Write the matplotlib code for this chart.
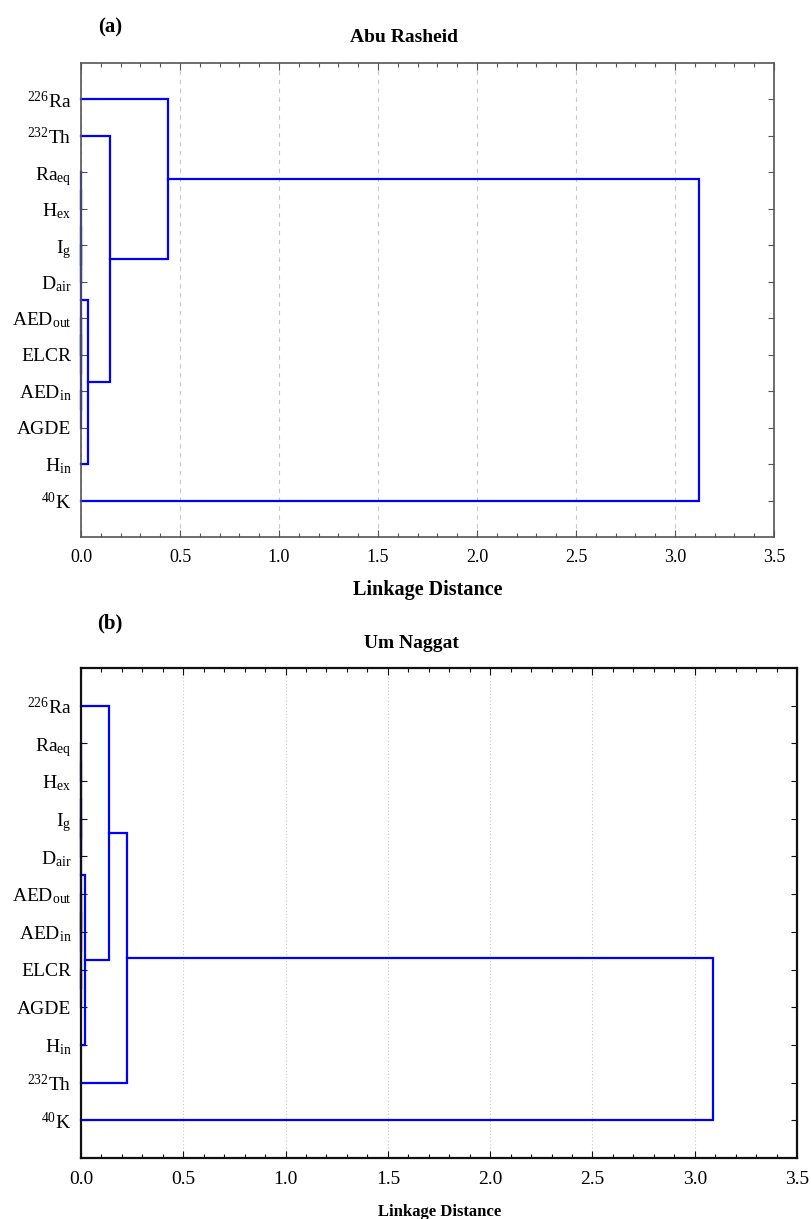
import matplotlib
matplotlib.use("Agg")
import matplotlib.pyplot as plt
from matplotlib.ticker import MultipleLocator

plt.rcParams["font.family"] = "Liberation Serif"
plt.rcParams["mathtext.fontset"] = "custom"
plt.rcParams["mathtext.rm"] = "Liberation Serif"
plt.rcParams["mathtext.it"] = "Liberation Serif:italic"
plt.rcParams["mathtext.bf"] = "Liberation Serif:bold"

# leaf labels, top to bottom
leaves_a = [r"$^{226}$Ra", r"$^{232}$Th", r"Ra$_{\mathrm{eq}}$", r"H$_{\mathrm{ex}}$",
            r"I$_{\mathrm{g}}$", r"D$_{\mathrm{air}}$", r"AED$_{\mathrm{out}}$", "ELCR",
            r"AED$_{\mathrm{in}}$", "AGDE", r"H$_{\mathrm{in}}$", r"$^{40}$K"]
leaves_b = [r"$^{226}$Ra", r"Ra$_{\mathrm{eq}}$", r"H$_{\mathrm{ex}}$", r"I$_{\mathrm{g}}$",
            r"D$_{\mathrm{air}}$", r"AED$_{\mathrm{out}}$", r"AED$_{\mathrm{in}}$", "ELCR",
            "AGDE", r"H$_{\mathrm{in}}$", r"$^{232}$Th", r"$^{40}$K"]

# merges: (left node, right node, linkage distance); new nodes numbered from 12
links_a = [(2, 3, 0.0), (4, 5, 0.0), (6, 7, 0.0), (8, 9, 0.0),
           (12, 13, 0.0), (14, 15, 0.0), (16, 17, 0.0),
           (18, 10, 0.035), (1, 19, 0.146), (0, 20, 0.44), (21, 11, 3.12)]
links_b = [(1, 2, 0.0), (3, 4, 0.0), (5, 6, 0.0), (7, 8, 0.0),
           (12, 13, 0.0), (14, 15, 0.0), (16, 17, 0.0),
           (18, 9, 0.02), (0, 19, 0.137), (20, 10, 0.225), (21, 11, 3.09)]

W, H = 811, 1219
fig = plt.figure(figsize=(W / 100, H / 100), dpi=100)


def tree(ax, leaves, links, spine_col, spine_w, grid_ls, tick_fs):
    pos = {i: (0.0, i + 1) for i in range(len(leaves))}
    for k, (a, b, h) in enumerate(links):
        xa, ya = pos[a]
        xb, yb = pos[b]
        ax.plot([xa, h, h, xb], [ya, ya, yb, yb], color="#0000ff", lw=1.6,
                solid_joinstyle="miter", zorder=2, clip_on=False)
        pos[len(leaves) + k] = (h, (ya + yb) / 2)
    ax.set_xlim(0, 3.5)
    ax.set_ylim(len(leaves) + 1, 0)
    ax.set_yticks(range(1, len(leaves) + 1))
    ax.set_yticklabels(leaves, fontsize=14)
    ax.xaxis.set_minor_locator(MultipleLocator(0.1))
    ax.set_xticks([0, 0.5, 1, 1.5, 2, 2.5, 3, 3.5])
    ax.set_xticklabels(["0.0", "0.5", "1.0", "1.5", "2.0", "2.5", "3.0", "3.5"], fontsize=tick_fs)
    ax.tick_params(axis="both", which="both", direction="in", top=True, right=True,
                   color=spine_col, width=0.8)
    ax.tick_params(axis="x", which="major", length=5, pad=9)
    ax.tick_params(axis="x", which="minor", length=3)
    ax.tick_params(axis="y", length=4, pad=7)
    for s in ax.spines.values():
        s.set_color(spine_col)
        s.set_linewidth(spine_w)
        s.set_zorder(3)
    ax.grid(axis="x", which="major", color="#c8c8c8", ls=grid_ls, lw=0.8)


ax1 = fig.add_axes([81 / W, 1 - 537 / H, (774 - 81) / W, (537 - 63) / H])
tree(ax1, leaves_a, links_a, "#555555", 1.2, (0, (4, 4)), 13)
ax1.set_xlabel("Linkage Distance", fontsize=14.5, fontweight="bold", labelpad=10)

ax2 = fig.add_axes([81 / W, 1 - 1158 / H, (797 - 81) / W, (1158 - 668) / H])
tree(ax2, leaves_b, links_b, "#111111", 1.6, (0, (1, 2)), 14)

fig.text(404 / W, 1 - 38 / H, "Abu Rasheid", ha="center", va="center", fontsize=14, fontweight="bold")
fig.text(110 / W, 1 - 27 / H, "(a)", ha="center", va="center", fontsize=15, fontweight="bold")
fig.text(411 / W, 1 - 643 / H, "Um Naggat", ha="center", va="center", fontsize=14, fontweight="bold")
fig.text(110 / W, 1 - 623 / H, "(b)", ha="center", va="center", fontsize=15, fontweight="bold")
fig.text(440 / W, 1 - 1212 / H, "Linkage Distance", ha="center", va="center", fontsize=12, fontweight="bold")

fig.savefig("out.png", dpi=100)
